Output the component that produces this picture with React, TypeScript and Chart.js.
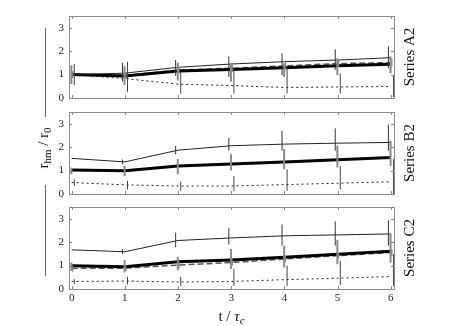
import React, { useEffect, useRef } from 'react';
import { Chart, registerables } from 'chart.js';
Chart.register(...registerables);

const FONT = '"Liberation Serif", "Times New Roman", serif';

const xValues = [0, 1, 2, 3, 4, 5, 6];
const xTicks = [0, 1, 2, 3, 4, 5, 6];
const yTicks = [0, 1, 2, 3];
const panelLabels = ['Series A2', 'Series B2', 'Series C2'];

// Panel A2
const aThin = [1.0, 1.06, 1.31, 1.45, 1.55, 1.62, 1.72];
const aThinLo = [0.62, 0.7, 0.95, 0.9, 0.98, 1.19, 1.27];
const aThinHi = [1.45, 1.5, 1.62, 1.77, 1.91, 2.08, 2.2];
const aThick = [1.0, 0.94, 1.15, 1.22, 1.29, 1.38, 1.44];
const aThickLo = [0.6, 0.55, 0.75, 0.69, 0.9, 0.98, 1.05];
const aThickHi = [1.4, 1.35, 1.5, 1.48, 1.48, 1.7, 1.77];
const aDashed = [1.0, 0.96, 1.19, 1.27, 1.37, 1.47, 1.51];
const aDashedLo = [0.85, 0.82, 1.05, 1.12, 1.22, 1.32, 1.35];
const aDashedHi = [1.15, 1.1, 1.33, 1.42, 1.52, 1.62, 1.67];
const aDotted = [1.0, 0.83, 0.59, 0.53, 0.45, 0.47, 0.49];
const aDottedLo = [0.55, 0.26, 0.19, 0.19, 0.19, 0.19, 0.04];
const aDottedHi = [1.45, 1.55, 1.12, 1.27, 1.27, 1.05, 0.98];

// Panel B2
const bThin = [1.52, 1.37, 1.87, 2.06, 2.13, 2.17, 2.2];
const bThinLo = [1.42, 1.27, 1.7, 1.85, 1.85, 1.85, 1.85];
const bThinHi = [1.62, 1.47, 2.05, 2.39, 2.7, 2.8, 2.96];
const bThick = [1.02, 0.99, 1.19, 1.28, 1.37, 1.46, 1.56];
const bThickLo = [0.84, 0.77, 0.84, 1.0, 1.06, 1.13, 1.2];
const bThickHi = [1.13, 1.2, 1.49, 1.7, 1.92, 2.06, 2.27];
const bDotted = [0.49, 0.39, 0.34, 0.34, 0.4, 0.46, 0.52];
const bDottedLo = [0.34, 0.2, 0.13, 0.13, 0.13, 0.2, 0.0];
const bDottedHi = [0.63, 0.56, 0.52, 0.77, 1.06, 1.2, 1.49];

// Panel C2
const cThin = [1.67, 1.59, 2.07, 2.18, 2.27, 2.31, 2.35];
const cThinLo = [1.56, 1.49, 1.78, 1.9, 1.85, 1.85, 1.85];
const cThinHi = [1.78, 1.71, 2.4, 2.6, 2.75, 2.88, 2.93];
const cThick = [0.99, 0.95, 1.16, 1.24, 1.35, 1.48, 1.61];
const cThickLo = [0.77, 0.7, 0.8, 0.85, 0.92, 1.06, 1.13];
const cThickHi = [1.13, 1.24, 1.38, 1.71, 1.85, 2.1, 2.35];
const cDashed = [0.88, 0.89, 1.02, 1.13, 1.28, 1.42, 1.56];
const cDashedLo = [0.75, 0.76, 0.9, 1.0, 1.15, 1.3, 1.42];
const cDashedHi = [1.0, 1.02, 1.15, 1.26, 1.41, 1.55, 1.7];
const cDotted = [0.32, 0.34, 0.3, 0.32, 0.4, 0.46, 0.53];
const cDottedLo = [0.2, 0.2, 0.13, 0.13, 0.13, 0.17, 0.13];
const cDottedHi = [0.42, 0.52, 0.52, 0.85, 0.99, 1.2, 1.49];

type Seg = { t: string; size: number; italic?: boolean; dy?: number };

function drawRich(ctx: CanvasRenderingContext2D, segs: Seg[], cx: number, cy: number, rot: number, base: number) {
  ctx.save();
  ctx.translate(cx, cy);
  ctx.rotate(rot);
  ctx.textBaseline = 'alphabetic';
  ctx.textAlign = 'left';
  ctx.fillStyle = '#111';
  const fontOf = (s: Seg) => `${s.italic ? 'italic ' : ''}${s.size}px ${FONT}`;
  let total = 0;
  const widths = segs.map((s) => {
    ctx.font = fontOf(s);
    const w = ctx.measureText(s.t).width;
    total += w;
    return w;
  });
  let x = -total / 2;
  segs.forEach((s, i) => {
    ctx.font = fontOf(s);
    ctx.fillText(s.t, x, base + (s.dy || 0));
    x += widths[i];
  });
  ctx.restore();
}

const FRAME = '#8a8a8a';

const framePlugin = {
  id: 'frame',
  afterDatasetsDraw(chart: any) {
    const { ctx, chartArea: a, scales } = chart;
    ctx.save();
    ctx.strokeStyle = FRAME;
    ctx.lineWidth = 1;
    ctx.strokeRect(Math.round(a.left) + 0.5, Math.round(a.top) + 0.5, Math.round(a.right - a.left), Math.round(a.bottom - a.top));
    ctx.beginPath();
    xTicks.forEach((v) => {
      const px = Math.round(scales.x.getPixelForValue(v)) + 0.5;
      ctx.moveTo(px, a.top);
      ctx.lineTo(px, a.top + 3);
      ctx.moveTo(px, a.bottom);
      ctx.lineTo(px, a.bottom - 3);
    });
    yTicks.forEach((v) => {
      const py = Math.round(scales.y.getPixelForValue(v)) + 0.5;
      ctx.moveTo(a.left, py);
      ctx.lineTo(a.left + 3, py);
      ctx.moveTo(a.right, py);
      ctx.lineTo(a.right - 3, py);
    });
    ctx.stroke();
    ctx.restore();
  },
};

const labelPlugin = {
  id: 'panelLabels',
  afterDraw(chart: any) {
    const o = chart.options.plugins.panelLabels || {};
    const { ctx, chartArea: a } = chart;
    if (o.label) {
      drawRich(ctx, [{ t: o.label, size: 15 }], 409, (a.top + a.bottom) / 2, -Math.PI / 2, 5);
    }
    if (o.yTitle) {
      ctx.save();
      ctx.strokeStyle = '#666';
      ctx.lineWidth = 1;
      ctx.beginPath();
      ctx.moveTo(45.5, 28);
      ctx.lineTo(45.5, 117);
      ctx.moveTo(45.5, 185);
      ctx.lineTo(45.5, 276);
      ctx.stroke();
      ctx.restore();
      drawRich(
        ctx,
        [
          { t: 'r', size: 15 },
          { t: 'hm', size: 11, dy: 3 },
          { t: ' / ', size: 15 },
          { t: 'r', size: 15 },
          { t: '0', size: 11, dy: 3 },
        ],
        44,
        148,
        -Math.PI / 2,
        4
      );
    }
    if (o.xTitle) {
      drawRich(
        ctx,
        [
          { t: 't / ', size: 15 },
          { t: 'τ', size: 15, italic: true },
          { t: 'c', size: 11, italic: true, dy: 3 },
        ],
        (a.left + a.right) / 2,
        317,
        0,
        4
      );
    }
  },
};

function lineSet(vals: number[], color: string, width: number, dash: number[]) {
  return {
    data: xValues.map((x, i) => ({ x, y: vals[i] })),
    borderColor: color,
    borderWidth: width,
    borderDash: dash,
    pointRadius: 0,
    fill: false,
    tension: 0,
  };
}

function barSet(lo: number[], hi: number[], off: number, color: string, width: number) {
  return {
    data: xValues.flatMap((x, i) => [
      { x: x + off, y: lo[i] },
      { x: x + off, y: hi[i] },
      { x: x + off, y: null },
    ]),
    borderColor: color,
    borderWidth: width,
    pointRadius: 0,
    spanGaps: false,
    fill: false,
    tension: 0,
  };
}

type Series = { v: number[]; lo: number[]; hi: number[] };

function buildDatasets(thin: Series, thick: Series, dashed: Series | null, dotted: Series) {
  const ds: any[] = [];
  ds.push(barSet(thin.lo, thin.hi, -0.045, '#333', 1));
  ds.push(barSet(thick.lo, thick.hi, -0.005, '#8a8a8a', 2));
  if (dashed) ds.push(barSet(dashed.lo, dashed.hi, 0.02, '#777', 1.2));
  ds.push(barSet(dotted.lo, dotted.hi, 0.05, '#444', 1));
  ds.push(lineSet(thin.v, '#222', 1, []));
  ds.push(lineSet(thick.v, '#000', 3, []));
  if (dashed) ds.push(lineSet(dashed.v, '#555', 1.5, [6, 3]));
  ds.push(lineSet(dotted.v, '#222', 1, [2, 3]));
  return ds;
}

function makeConfig(datasets: any[], pad: any, showX: boolean, labels: any): any {
  const tickFont = { family: FONT, size: 11 };
  return {
    type: 'line',
    data: { datasets },
    options: {
      animation: false,
      responsive: false,
      events: [],
      layout: { padding: pad },
      plugins: { legend: { display: false }, tooltip: { enabled: false }, panelLabels: labels },
      scales: {
        x: {
          type: 'linear',
          min: -0.05,
          max: 6.06,
          display: showX,
          grid: { display: false, drawTicks: false },
          border: { display: false },
          ticks: { font: tickFont, color: '#222', padding: 3, maxRotation: 0, autoSkip: false },
          afterBuildTicks: (s: any) => {
            s.ticks = xTicks.map((v) => ({ value: v }));
          },
          afterFit: (s: any) => {
            s.height = showX ? 37 : 0;
          },
        },
        y: {
          type: 'linear',
          min: 0,
          max: 3.5,
          grid: { display: false, drawTicks: false },
          border: { display: false },
          ticks: { font: tickFont, color: '#222', padding: 5 },
          afterBuildTicks: (s: any) => {
            s.ticks = yTicks.map((v) => ({ value: v }));
          },
          afterFit: (s: any) => {
            s.width = 69;
          },
        },
      },
    },
    plugins: [framePlugin, labelPlugin],
  };
}

export default function App() {
  const r1 = useRef<HTMLCanvasElement>(null);
  const r2 = useRef<HTMLCanvasElement>(null);
  const r3 = useRef<HTMLCanvasElement>(null);

  useEffect(() => {
    const c1 = new Chart(
      r1.current as HTMLCanvasElement,
      makeConfig(
        buildDatasets(
          { v: aThin, lo: aThinLo, hi: aThinHi },
          { v: aThick, lo: aThickLo, hi: aThickHi },
          { v: aDashed, lo: aDashedLo, hi: aDashedHi },
          { v: aDotted, lo: aDottedLo, hi: aDottedHi }
        ),
        { left: 0, right: 64, top: 16, bottom: 228 },
        false,
        { label: panelLabels[0] }
      )
    );
    const c2 = new Chart(
      r2.current as HTMLCanvasElement,
      makeConfig(
        buildDatasets(
          { v: bThin, lo: bThinLo, hi: bThinHi },
          { v: bThick, lo: bThickLo, hi: bThickHi },
          null,
          { v: bDotted, lo: bDottedLo, hi: bDottedHi }
        ),
        { left: 0, right: 64, top: 112, bottom: 132 },
        false,
        { label: panelLabels[1], yTitle: true }
      )
    );
    const c3 = new Chart(
      r3.current as HTMLCanvasElement,
      makeConfig(
        buildDatasets(
          { v: cThin, lo: cThinLo, hi: cThinHi },
          { v: cThick, lo: cThickLo, hi: cThickHi },
          { v: cDashed, lo: cDashedLo, hi: cDashedHi },
          { v: cDotted, lo: cDottedLo, hi: cDottedHi }
        ),
        { left: 0, right: 64, top: 207, bottom: 0 },
        true,
        { label: panelLabels[2], xTitle: true }
      )
    );
    return () => {
      c1.destroy();
      c2.destroy();
      c3.destroy();
    };
  }, []);

  const cs: React.CSSProperties = { position: 'absolute', left: 0, top: 0, width: 458, height: 326 };
  return (
    <div style={{ position: 'fixed', left: 0, top: 0, width: 458, height: 326, background: '#fff' }}>
      <canvas ref={r1} width={458} height={326} style={cs} />
      <canvas ref={r2} width={458} height={326} style={cs} />
      <canvas ref={r3} width={458} height={326} style={cs} />
    </div>
  );
}
